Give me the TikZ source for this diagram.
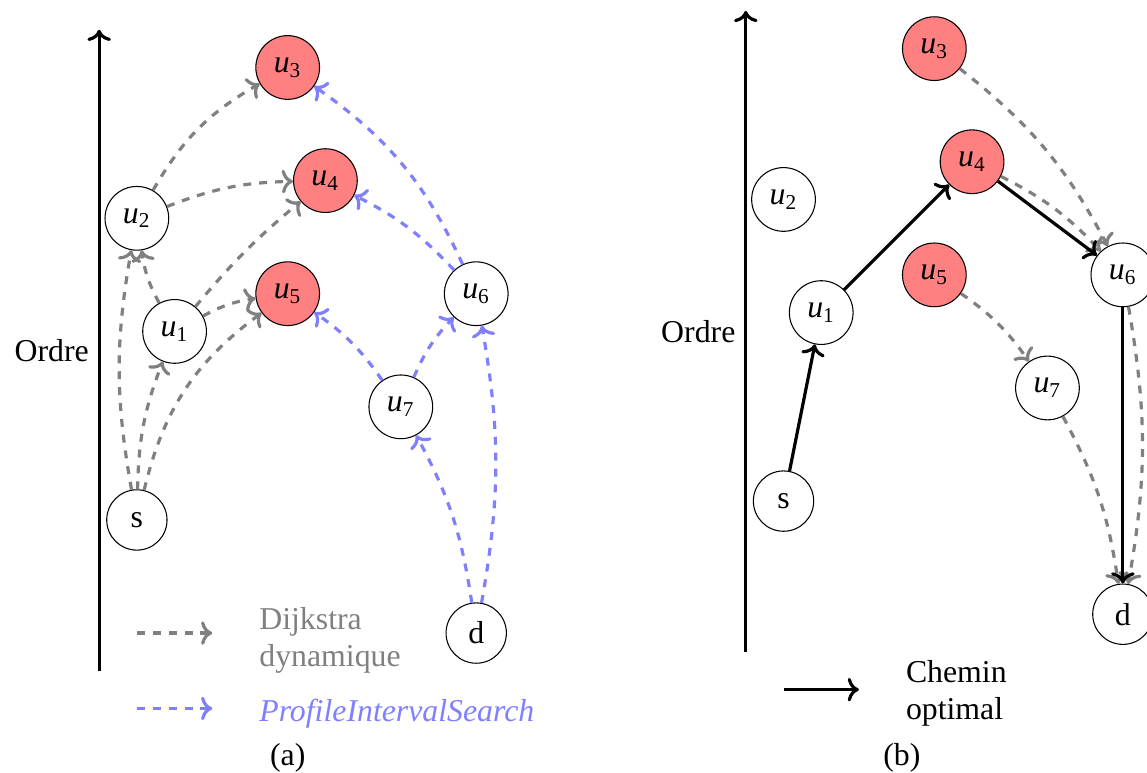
\documentclass[tikz,border=0pt]{standalone}
\usepackage{fontspec}
\setmainfont{Liberation Serif}
\usepackage{xcolor}
\usepackage{tikz}
\usetikzlibrary{arrows.meta,positioning}
\definecolor{Xsalmon}{RGB}{255,128,128}
\definecolor{Xlav}{RGB}{128,128,255}
\definecolor{Xgray}{RGB}{128,128,128}
\tikzset{
  vertex/.style={circle, draw, thin, minimum size=0.8cm, inner sep=4pt},
  hotvertex/.style={vertex, fill=Xsalmon},
  dijk/.style={->, very thick, dashed, draw=Xgray},
  pis/.style={->, very thick, dashed, draw=Xlav},
  optpath/.style={->, very thick},
  ordre/.style={->, very thick}
}
\newcommand{\uu}[1]{\textit{u}\textsubscript{#1}}

\begin{document}
\begin{tikzpicture}[x=0.5cm, y=0.5cm, font=\fontsize{12}{14}\selectfont]
  \useasboundingbox (-3.63,-6.71) rectangle (26.79,13.79);

  % (a)
  \coordinate (a-bot) at (-1,-4);
  \coordinate (a-top) at (-1,13);
  \draw[ordre] (a-bot) -- node[left]{Ordre} (a-top);

  \node[vertex] (a-s) at (0,0) {s};
  \node[vertex] (a-u1) at (1,5) {\uu{1}};
  \node[vertex] (a-u2) at (0,8) {\uu{2}};
  \node[hotvertex] (a-u3) at (4,12) {\uu{3}};
  \node[hotvertex] (a-u4) at (5,9) {\uu{4}};
  \node[hotvertex] (a-u5) at (4,6) {\uu{5}};
  \node[vertex] (a-u6) at (9,6) {\uu{6}};
  \node[vertex] (a-u7) at (7,3) {\uu{7}};
  \node[vertex] (a-d) at (9,-3) {d};

  \draw[dijk] (a-s) to[bend left=10] (a-u2);
  \draw[dijk] (a-s) to[bend left=10] (a-u1);
  \draw[dijk] (a-s) to[bend left=20] (a-u5);
  \draw[dijk] (a-u1) to[bend left=10] (a-u2);
  \draw[dijk] (a-u1) to[bend left=10] (a-u5);
  \draw[dijk] (a-u1) to[bend left=5] (a-u4);
  \draw[dijk] (a-u2) to[bend left=15] (a-u3);
  \draw[dijk] (a-u2) to[bend left=10] (a-u4);
  \draw[pis] (a-u6) to[bend right=15] (a-u3);
  \draw[pis] (a-u6) to[bend right=10] (a-u4);
  \draw[pis] (a-u7) to[bend right=10] (a-u5);
  \draw[pis] (a-u7) to[bend left=10] (a-u6);
  \draw[pis] (a-d) to[bend right=10] (a-u7);
  \draw[pis] (a-d) to[bend right=10] (a-u6);

  % legend (a)
  \coordinate (a-lg1) at (0,-3);
  \coordinate (a-lg2) at (2,-3);
  \coordinate (a-lg3) at (0,-5);
  \coordinate (a-lg4) at (2,-5);
  \draw[dijk] (a-lg1) -- (a-lg2);
  \draw[pis] (a-lg3) -- (a-lg4);
  \node[anchor=west, align=left, text=Xgray] (a-dijk) at (3,-3.2) {Dijkstra\\dynamique};
  \node[anchor=west, text=Xlav] (a-pis) at (3,-5.15) {\textit{ProfileIntervalSearch}};
  \node (a-cap) at (4,-6.3) {(a)};

  % (b)
  \begin{scope}[shift={(17.15,0.5)}]
    \coordinate (b-bot) at (-1,-4);
    \coordinate (b-top) at (-1,13);
    \draw[ordre] (b-bot) -- node[left]{Ordre} (b-top);

    \node[vertex] (b-s) at (0,0) {s};
    \node[vertex] (b-u1) at (1,5) {\uu{1}};
    \node[vertex] (b-u2) at (0,8) {\uu{2}};
    \node[hotvertex] (b-u3) at (4,12) {\uu{3}};
    \node[hotvertex] (b-u4) at (5,9) {\uu{4}};
    \node[hotvertex] (b-u5) at (4,6) {\uu{5}};
    \node[vertex] (b-u6) at (9,6) {\uu{6}};
    \node[vertex] (b-u7) at (7,3) {\uu{7}};
    \node[vertex] (b-d) at (9,-3) {d};

    \draw[dijk] (b-u3) to[bend left=12] (b-u6);
    \draw[dijk] (b-u4) to[bend left=10] (b-u6);
    \draw[dijk] (b-u5) to[bend left=10] (b-u7);
    \draw[dijk] (b-u7) to[bend left=10] (b-d);
    \draw[dijk] (b-u6) to[bend left=10] (b-d);

    \draw[optpath] (b-s) -- (b-u1);
    \draw[optpath] (b-u1) -- (b-u4);
    \draw[optpath] (b-u4) -- (b-u6);
    \draw[optpath] (b-u6) -- (b-d);

    % legend (b)
    \coordinate (b-lg1) at (0,-5);
    \coordinate (b-lg2) at (2,-5);
    \draw[optpath] (b-lg1) -- (b-lg2);
    \node[anchor=west, align=left] (b-opt) at (3,-5.1) {Chemin\\optimal};
  \end{scope}
  \node (b-cap) at (20.29,-6.3) {(b)};
\end{tikzpicture}
\end{document}
